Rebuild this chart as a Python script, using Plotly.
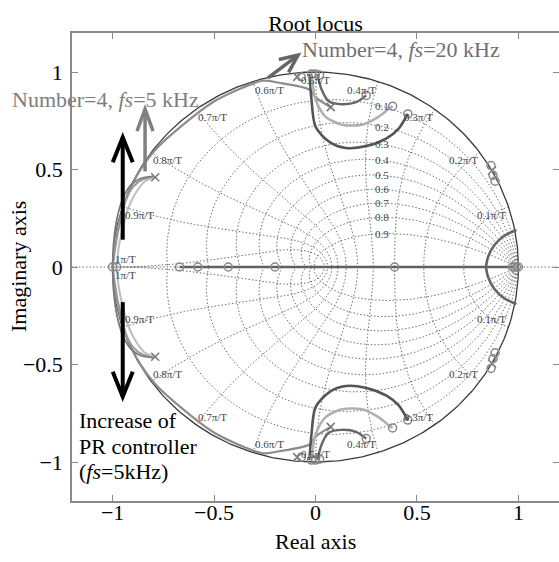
import numpy as np
import plotly.graph_objects as go

# ---------------- data ----------------
ZETAS = [0.1, 0.2, 0.3, 0.4, 0.5, 0.6, 0.7, 0.8, 0.9]
WN_K = [1, 2, 3, 4, 5, 6, 7, 8, 9, 10]
WN_LABELS = ["0.1π/T", "0.2π/T", "0.3π/T", "0.4π/T", "0.5π/T",
             "0.6π/T", "0.7π/T", "0.8π/T", "0.9π/T", "1π/T"]
ZETA_LABELS = ["0.1", "0.2", "0.3", "0.4", "0.5", "0.6", "0.7", "0.8", "0.9"]

# fs = 20 kHz loci (upper half; lower half is the conjugate)
f20_dark_re = [-0.03, -0.02, 0.0, 0.07, 0.15, 0.25, 0.35, 0.41, 0.455]
f20_dark_im = [0.99, 0.86, 0.72, 0.64, 0.61, 0.62, 0.66, 0.71, 0.785]
f20_light_re = [-0.02, 0.0, 0.05, 0.13, 0.23, 0.31, 0.36, 0.38]
f20_light_im = [0.99, 0.86, 0.77, 0.73, 0.73, 0.77, 0.81, 0.825]
f20_mid_re = [0.01, 0.03, 0.065, 0.13, 0.2, 0.25]
f20_mid_im = [0.99, 0.91, 0.85, 0.835, 0.845, 0.88]

# fs = 5 kHz loci
f5_outer_re = [0.075, 0.0, -0.03, -0.18, -0.26, -0.49, -0.64, -0.79, -0.88, -0.93, -0.97, -0.99, -1.0]
f5_outer_im = [0.82, 0.87, 0.91, 0.945, 0.955, 0.855, 0.74, 0.6, 0.47, 0.36, 0.2, 0.08, 0.0]
f5_a_re = [-0.79, -0.85, -0.90, -0.94, -0.97, -0.99, -1.0]
f5_a_im = [0.46, 0.45, 0.41, 0.33, 0.22, 0.10, 0.0]
f5_b_re = [-0.79, -0.84, -0.88, -0.92, -0.95, -0.97, -0.98]
f5_b_im = [0.46, 0.44, 0.39, 0.31, 0.20, 0.10, 0.0]
f5_c_re = [-0.80, -0.86, -0.91, -0.95, -0.98, -0.995, -1.0]
f5_c_im = [0.465, 0.455, 0.42, 0.35, 0.24, 0.12, 0.0]

# real-axis locus and the breakaway arc near z = 1
real_locus_re = [-0.67, 0.98]
arc_re = [0.99, 0.93, 0.88, 0.85, 0.84]
arc_im = [0.19, 0.16, 0.11, 0.05, 0.0]

# open-loop poles (x) and zeros (o)
poles_re = [-0.79, 0.075, -0.09, 0.87]
poles_im = [0.46, 0.82, 0.975, 0.495]
zeros_re = [0.455, 0.38, 0.25, -0.02, 0.0, 0.02, -0.07, 0.865, 0.875, 0.885]
zeros_im = [0.785, 0.825, 0.88, 0.99, 0.99, 0.985, 0.975, 0.52, 0.47, 0.44]
zeros_real_axis = [-1.0, -0.98, -0.67, -0.58, -0.43, -0.2, 0.39, 0.97, 0.98, 0.99, 1.0]

SERIF = "Liberation Serif, Times New Roman, serif"
PX_X = 203.0   # px per unit (x)
PX_Y = 195.0   # px per unit (y)

fig = go.Figure()

# ---------------- z-plane grid ----------------
gx, gy = [], []
th = np.linspace(0, np.pi, 240)
for z in ZETAS:
    r = np.exp(-z * th / np.sqrt(1 - z * z))
    for s in (1, -1):
        gx += list(r * np.cos(th)) + [None]
        gy += list(s * r * np.sin(th)) + [None]
zz = np.linspace(0, 1, 120)
for k in WN_K:
    tn = k * np.pi / 10
    r = np.exp(-tn * zz)
    a = tn * np.sqrt(1 - zz ** 2)
    for s in (1, -1):
        gx += list(r * np.cos(a)) + [None]
        gy += list(s * r * np.sin(a)) + [None]
gx += [-1.2, 1.2, None]
gy += [0, 0, None]
fig.add_trace(go.Scatter(x=gx, y=gy, mode="lines", hoverinfo="skip",
                         line=dict(color="#6e6e6e", width=1, dash="1.5px,2px")))

# unit circle
tc = np.linspace(0, 2 * np.pi, 400)
fig.add_trace(go.Scatter(x=np.cos(tc), y=np.sin(tc), mode="lines", hoverinfo="skip",
                         line=dict(color="#3a3a3a", width=1.3)))


def conj_line(re, im, color, width):
    xs = list(re) + [None] + list(re)
    ys = list(im) + [None] + [-v for v in im]
    fig.add_trace(go.Scatter(x=xs, y=ys, mode="lines", hoverinfo="skip",
                             line=dict(color=color, width=width, shape="spline", smoothing=0.8)))


# fs = 5 kHz bundle
conj_line(f5_outer_re, f5_outer_im, "#8c8c8c", 2.2)
conj_line(f5_a_re, f5_a_im, "#9a9a9a", 2.0)
conj_line(f5_b_re, f5_b_im, "#bdbdbd", 2.0)
conj_line(f5_c_re, f5_c_im, "#7a7a7a", 1.8)

# fs = 20 kHz
conj_line(f20_dark_re, f20_dark_im, "#555555", 2.6)
conj_line(f20_light_re, f20_light_im, "#b0b0b0", 2.6)
conj_line(f20_mid_re, f20_mid_im, "#666666", 2.4)

# real axis locus + breakaway arc
fig.add_trace(go.Scatter(x=real_locus_re, y=[0, 0], mode="lines", hoverinfo="skip",
                         line=dict(color="#606060", width=2.6)))
conj_line(arc_re, arc_im, "#666666", 2.6)

# markers
fig.add_trace(go.Scatter(x=poles_re + poles_re, y=poles_im + [-v for v in poles_im],
                         mode="markers", hoverinfo="skip",
                         marker=dict(symbol="x-thin-open", size=8, color="#777",
                                     line=dict(color="#777", width=1.5))))
fig.add_trace(go.Scatter(x=zeros_re + zeros_re, y=zeros_im + [-v for v in zeros_im],
                         mode="markers", hoverinfo="skip",
                         marker=dict(symbol="circle-open", size=8, color="#888",
                                     line=dict(color="#888", width=1.5))))
fig.add_trace(go.Scatter(x=zeros_real_axis, y=[0] * len(zeros_real_axis),
                         mode="markers", hoverinfo="skip",
                         marker=dict(symbol="circle-open", size=8, color="#888",
                                     line=dict(color="#888", width=1.5))))

# ---------------- grid labels ----------------
annotations = []
for k, lab in zip(WN_K, WN_LABELS):
    tn = k * np.pi / 10
    cx, cy = np.cos(tn), np.sin(tn)
    xa = "right" if k < 5 else ("left" if k > 5 else "center")
    for s in (1, -1):
        annotations.append(dict(x=cx, y=s * cy, text=lab, showarrow=False,
                                xanchor=xa, yanchor="top" if s > 0 else "bottom",
                                font=dict(family=SERIF, size=11, color="#444")))
for z, lab in zip(ZETAS, ZETA_LABELS):
    tt = np.linspace(0, np.pi / 2, 2000)
    r = np.exp(-z * tt / np.sqrt(1 - z * z))
    re = r * np.cos(tt)
    i = int(np.argmin(np.abs(re - 0.33)))
    annotations.append(dict(x=re[i], y=r[i] * np.sin(tt[i]), text=lab, showarrow=False,
                            xanchor="center", yanchor="middle",
                            font=dict(family=SERIF, size=11, color="#444")))

# ---------------- text annotations ----------------
annotations.append(dict(x=-0.076, y=1.113, text="Number=4, <i>fs</i>=20 kHz", showarrow=False,
                        xanchor="left", yanchor="middle",
                        font=dict(family=SERIF, size=22, color="#707070")))
annotations.append(dict(x=(10 - 72) / 487, y=1 - (100 - 33) / 468, xref="paper", yref="paper",
                        text="Number=4, <i>fs</i>=5 kHz", showarrow=False,
                        xanchor="left", yanchor="middle",
                        font=dict(family=SERIF, size=22, color="#7e7e7e")))
for txt, yy in [("Increase of", -0.785), ("PR controller", -0.92), ("(<i>fs</i>=5kHz)", -1.05)]:
    annotations.append(dict(x=-1.177, y=yy, text=txt, showarrow=False,
                            xanchor="left", yanchor="middle",
                            font=dict(family=SERIF, size=22, color="black")))
annotations.append(dict(x=0.5, y=-(541 - 501) / 468, xref="paper", yref="paper", text="Real axis",
                        showarrow=False, xanchor="center", yanchor="middle",
                        font=dict(family=SERIF, size=22, color="black")))
annotations.append(dict(x=(18 - 72) / 487, y=0.5, xref="paper", yref="paper", text="Imaginary axis",
                        showarrow=False, textangle=-90, xanchor="center", yanchor="middle",
                        font=dict(family=SERIF, size=22, color="black")))

# ---------------- arrows ----------------
shapes = []


def arrow(x0, y0, x1, y1, color, width, hl, hw):
    shapes.append(dict(type="line", x0=x0, y0=y0, x1=x1, y1=y1, xref="x", yref="y",
                       line=dict(color=color, width=width)))
    dx, dy = (x1 - x0) * PX_X, (y1 - y0) * PX_Y
    L = np.hypot(dx, dy)
    ux, uy = dx / L, dy / L
    px, py = -uy, ux
    ax = [x1 - (ux * hl + px * hw) / PX_X, x1 - (ux * hl - px * hw) / PX_X]
    ay = [y1 - (uy * hl + py * hw) / PX_Y, y1 - (uy * hl - py * hw) / PX_Y]
    path = f"M {ax[0]} {ay[0]} L {x1} {y1} L {ax[1]} {ay[1]}"
    shapes.append(dict(type="path", path=path, xref="x", yref="y",
                       line=dict(color=color, width=width)))


arrow(-0.95, 0.14, -0.95, 0.665, "black", 4, 25, 10)
arrow(-0.95, -0.18, -0.95, -0.665, "black", 4, 25, 10)
arrow(-0.84, 0.49, -0.84, 0.81, "#808080", 3.5, 22, 8)
arrow(-0.234, 0.97, -0.086, 1.087, "#666666", 3.5, 18, 8)

fig.update_layout(
    width=559, height=562,
    margin=dict(l=72, r=0, t=33, b=61, autoexpand=False),
    plot_bgcolor="white", paper_bgcolor="white",
    showlegend=False,
    title=dict(text="Root locus", x=0.5, xref="paper", xanchor="center",
               y=1 - 23 / 562, yref="container", yanchor="middle",
               font=dict(family=SERIF, size=22, color="black")),
    annotations=annotations,
    shapes=shapes,
)
axis_common = dict(range=[-1.2, 1.2], showgrid=False, zeroline=False, showline=True,
                   linecolor="#8a8a8a", linewidth=1.5, mirror="ticks", ticks="inside",
                   ticklen=6, tickcolor="#8a8a8a", tickwidth=1.2, automargin=False,
                   tickfont=dict(family=SERIF, size=22, color="black"))
fig.update_xaxes(**axis_common, tickvals=[-1, -0.5, 0, 0.5, 1],
                 ticktext=["−1", "−0.5", "0", "0.5", "1"], ticklabelstandoff=-9)
fig.update_yaxes(**axis_common, tickvals=[-1, -0.5, 0, 0.5, 1],
                 ticktext=["−1", "−0.5", "0", "0.5", "1"], ticklabelstandoff=3)

fig.write_html("out.html")
